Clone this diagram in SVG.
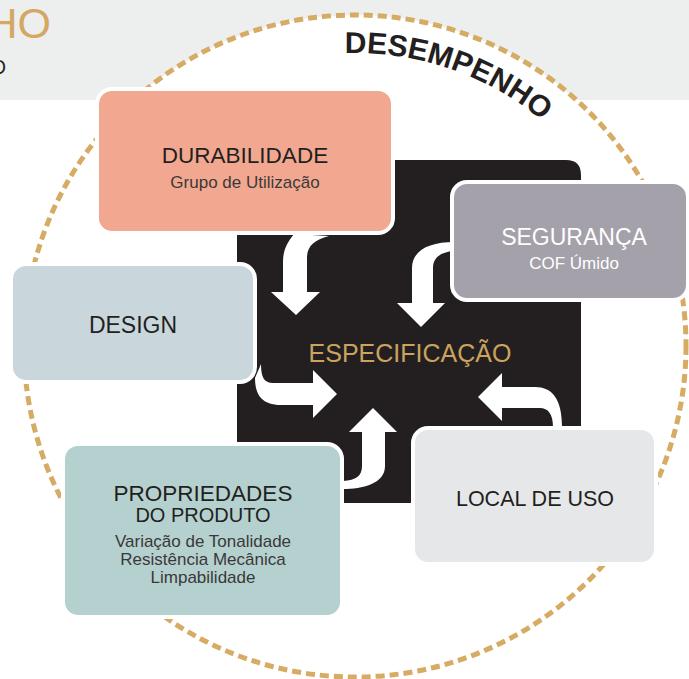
<svg xmlns="http://www.w3.org/2000/svg" width="689" height="679" viewBox="0 0 689 679">
<defs>
<style>
.node rect{stroke:#ffffff;stroke-width:4}
.t{font-family:"Liberation Sans",Arial,sans-serif;fill:#231F20;text-anchor:middle}
.s{font-family:"Liberation Sans",Arial,sans-serif;fill:#3A3839;text-anchor:middle;font-size:17px}
.arrow{fill:#ffffff}
</style>
<path id="arcText" d="M 344.8 53.2 A 293 293 0 0 1 648 346"/>
</defs>
<rect x="0" y="0" width="689" height="100" fill="#EDEFEE"/>
<text x="51" y="38" font-family="'Liberation Sans',Arial,sans-serif" font-size="43" fill="#D4A862" text-anchor="end">HO</text>
<text x="6" y="74" font-family="'Liberation Sans',Arial,sans-serif" font-size="20" fill="#231F20" text-anchor="end">O</text>
<circle cx="355" cy="346" r="331" fill="#ffffff" stroke="#D6AB63" stroke-width="5" stroke-dasharray="9 5"/>
<text font-family="'Liberation Sans',Arial,sans-serif" font-weight="bold" font-size="30" fill="#231F20"><textPath href="#arcText">DESEMPENHO</textPath></text>
<g id="center">
<path d="M237 160 H566 Q581 160 581 175 V503 H237 Z" fill="#231F20"/>
<text x="410" y="362" font-family="'Liberation Sans',Arial,sans-serif" font-size="25" fill="#CBA35F" text-anchor="middle">ESPECIFICAÇÃO</text>
</g>
<g id="connectors">
<path class="arrow" d="M 294 234 C 287 243 283 250 283 262 L 283 292 L 271 292 L 296 315 L 320 292 L 307 292 L 307 258 C 307 246 314 240 329 236 Z"/>
<path class="arrow" d="M 454 242 C 430 242 412 250 412 268 L 412 303 L 397 303 L 421 327 L 445 303 L 433 303 L 433 268 C 433 258 440 252 454 251 Z"/>
<path class="arrow" d="M 261 364 C 261 377 264 383 273 383 L 313 383 L 313 370 L 337 394 L 313 418 L 313 405 L 281 405 C 263 405 255 396 255 378 Z"/>
<path class="arrow" d="M 343 489 C 362 489 385 484 385 466 L 385 432 L 397 432 L 373 408 L 349 432 L 362 432 L 362 466 C 362 476 356 480 343 481 Z"/>
<path class="arrow" d="M 562 427 C 562 400 553 387 535 387 L 502 387 L 502 373 L 478 397 L 502 421 L 502 408 L 540 408 C 548 408 553 414 553 427 Z"/>
</g>
<g id="durabilidade" class="node">
<rect x="97" y="89" width="296" height="144" rx="15" fill="#F2A890"/>
<text class="t" x="245" y="163" font-size="22.5">DURABILIDADE</text>
<text class="s" x="245" y="188">Grupo de Utilização</text>
</g>
<g id="seguranca" class="node">
<rect x="452" y="182" width="236" height="118" rx="15" fill="#A5A1AB"/>
<text class="t" x="574" y="245" font-size="23" style="fill:#ffffff">SEGURANÇA</text>
<text class="s" x="574" y="269" style="fill:#ffffff">COF Úmido</text>
</g>
<g id="design" class="node">
<rect x="11" y="264" width="244" height="118" rx="15" fill="#C9D7DD"/>
<text class="t" x="133" y="333" font-size="23">DESIGN</text>
</g>
<g id="propriedades" class="node">
<rect x="63" y="444" width="279" height="173" rx="15" fill="#B5D1CF"/>
<text class="t" x="203" y="501" font-size="22.5">PROPRIEDADES</text>
<text class="t" x="203" y="522" font-size="20">DO PRODUTO</text>
<text class="s" x="203" y="547">Variação de Tonalidade</text>
<text class="s" x="203" y="565">Resistência Mecânica</text>
<text class="s" x="203" y="583">Limpabilidade</text>
</g>
<g id="local" class="node">
<rect x="413" y="428" width="243" height="136" rx="15" fill="#E6E7E9"/>
<text class="t" x="535" y="506" font-size="21.5">LOCAL DE USO</text>
</g>
</svg>
